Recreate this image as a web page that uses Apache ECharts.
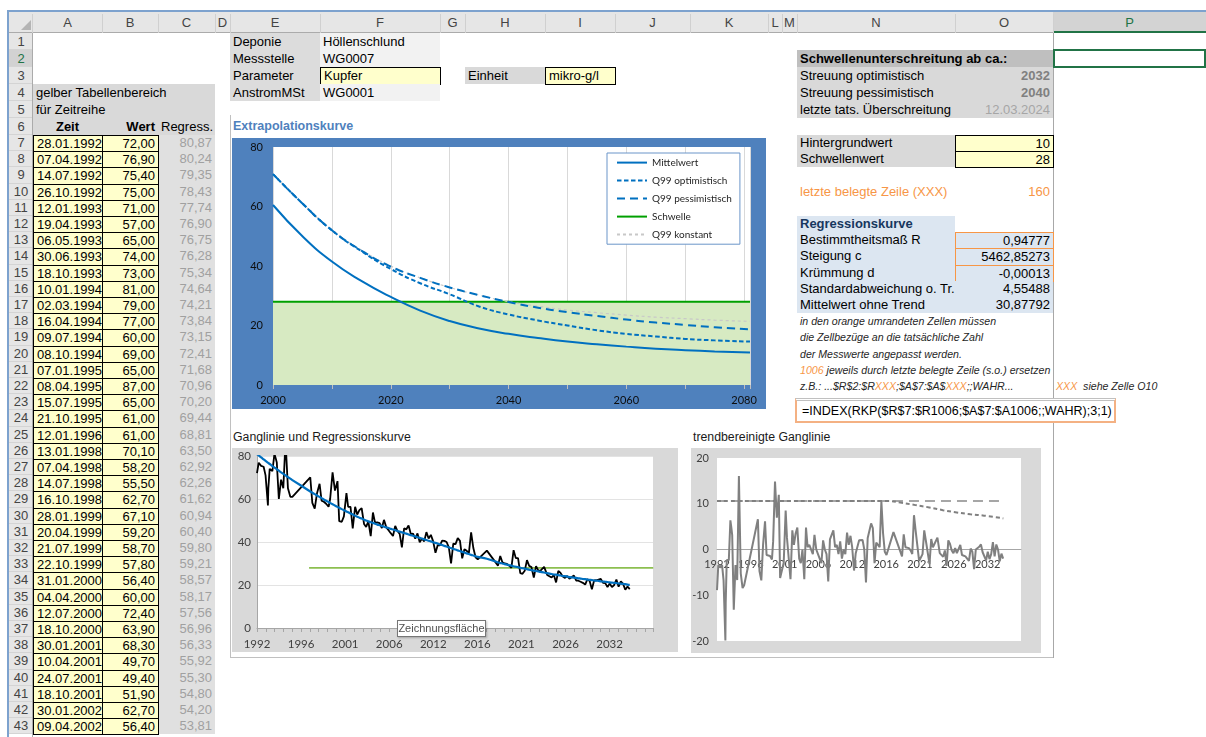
<!DOCTYPE html>
<html lang="de"><head><meta charset="utf-8"><title>Extrapolationskurve</title>
<script src="https://cdn.jsdelivr.net/npm/echarts@6/dist/echarts.min.js"></script>
<style>
html,body{margin:0;padding:0;background:#fff;}
body{width:1206px;height:737px;overflow:hidden;position:relative;font-family:Arial,"Liberation Sans",sans-serif;font-size:13px;color:#000;}
.c{position:absolute;white-space:nowrap;box-sizing:border-box;overflow:visible;padding:0 3px;}
.chart{position:absolute;}
.o{color:#F79646;}
</style></head><body>
<div id="sheet"></div>
<div id="ext" class="chart" style="left:232px;top:138px;width:534px;height:271px"></div>
<div id="gang" class="chart" style="left:232px;top:448px;width:446px;height:204px"></div>
<div id="trend" class="chart" style="left:691px;top:448px;width:350px;height:205px"></div>
<div id="tip" style="position:absolute;left:397px;top:620px;width:89px;height:17px;line-height:15px;box-sizing:border-box;background:#fff;border:1px solid #767676;font-size:11px;color:#505050;text-align:center;z-index:5;box-shadow:1px 1px 2px rgba(0,0,0,0.25)">Zeichnungsfläche</div>
<script>
// ---------------- Daten ----------------
const zeit = ['28.01.1992','07.04.1992','14.07.1992','26.10.1992','12.01.1993','19.04.1993','06.05.1993','30.06.1993','18.10.1993','10.01.1994','02.03.1994','16.04.1994','09.07.1994','08.10.1994','07.01.1995','08.04.1995','15.07.1995','21.10.1995','12.01.1996','13.01.1998','07.04.1998','14.07.1998','16.10.1998','28.01.1999','20.04.1999','21.07.1999','22.10.1999','31.01.2000','04.04.2000','12.07.2000','18.10.2000','30.01.2001','10.04.2001','24.07.2001','18.10.2001','30.01.2002','09.04.2002',
'15.07.2002','14.10.2002','20.01.2003','15.04.2003','14.07.2003','13.10.2003','19.01.2004','14.04.2004','12.07.2004','18.10.2004','17.01.2005','13.04.2005','11.07.2005','17.10.2005','16.01.2006','12.04.2006','17.07.2006','16.10.2006','15.01.2007','16.04.2007','16.07.2007','15.10.2007','14.01.2008','14.04.2008','14.07.2008','13.10.2008','12.01.2009','14.04.2009','13.07.2009','12.10.2009','11.01.2010','12.04.2010','12.07.2010','11.10.2010','10.01.2011','11.04.2011','11.07.2011','10.10.2011','16.01.2012','16.04.2012','16.07.2012','15.10.2012','14.01.2013','15.04.2013','15.07.2013','14.10.2013','13.01.2014','14.04.2014','14.07.2014','13.10.2014','12.01.2015','13.04.2015','13.07.2015','12.10.2015','11.01.2016','11.04.2016',
'11.07.2016','10.10.2016','16.10.2017',
'14.01.2019','15.04.2019','15.07.2019','14.10.2019','13.01.2020','14.04.2020','13.07.2020','12.10.2020','11.01.2021','12.04.2021','12.07.2021','11.10.2021','10.01.2022','11.04.2022','11.07.2022','10.10.2022','16.01.2023','17.04.2023','17.07.2023','16.10.2023','12.03.2024','15.07.2024','14.10.2024','13.01.2025','14.04.2025','14.07.2025','13.10.2025','12.01.2026','13.04.2026','13.07.2026','12.10.2026','11.01.2027','12.07.2027','11.10.2027','10.01.2028','10.04.2028','10.07.2028','16.10.2028','15.01.2029','16.04.2029','16.07.2029','15.10.2029','14.01.2030','15.04.2030','15.07.2030','14.10.2030','13.01.2031','14.04.2031','14.07.2031','13.10.2031','12.01.2032','12.04.2032','12.07.2032','11.10.2032','10.01.2033','11.04.2033','11.07.2033','10.10.2033'];
const wert = [72.00,76.90,75.40,75.00,71.00,57.00,65.00,74.00,73.00,81.00,79.00,77.00,60.00,69.00,65.00,87.00,65.00,61.00,61.00,70.10,58.20,55.50,62.70,67.10,59.20,58.70,57.80,56.40,60.00,72.40,63.90,68.30,49.70,49.40,51.90,62.70,56.40,
56.3,46.3,56.4,52.8,54.8,55.7,48.4,47.0,49.6,42.7,53.7,49.0,49.1,48.8,46.5,50.3,46.8,45.5,44.1,42.8,47.5,45.1,43.8,37.5,46.4,45.9,47.7,43.7,43.9,41.6,44.0,39.9,41.6,40.3,44.6,41.6,43.3,40.4,35.0,38.5,38.4,40.6,40.5,40.0,37.5,30.0,39.3,39.0,41.8,40.5,32.4,36.6,35.9,34.9,44.5,37.2,
32.9,31.9,36.0,
29.0,33.5,30.5,30.0,29.8,29.0,28.0,36.2,32.5,32.5,25.5,25.2,26.6,31.6,28.9,28.4,23.5,28.8,26.8,26.7,28.4,24.7,24.1,23.5,24.7,21.2,26.6,25.6,24.0,23.3,24.2,22.9,24.4,22.1,22.0,21.5,21.0,20.2,22.7,21.9,18.0,22.1,22.2,22.5,22.8,21.0,20.9,19.0,20.7,19.0,20.0,22.5,19.2,21.7,20.5,17.8,19.3,18.1];
const regress = [80.87,80.24,79.35,78.43,77.74,76.90,76.75,76.28,75.34,74.64,74.21,73.84,73.15,72.41,71.68,70.96,70.20,69.44,68.81,63.50,62.92,62.26,61.62,60.94,60.40,59.80,59.21,58.57,58.17,57.56,56.96,56.33,55.92,55.30,54.80,54.20,53.81,
53.3,52.8,52.2,51.8,51.3,50.9,50.4,50.0,49.6,49.2,48.9,48.5,48.1,47.8,47.5,47.1,46.8,46.5,46.1,45.8,45.5,45.1,44.8,44.5,44.2,43.9,43.5,43.2,42.9,42.6,42.2,41.9,41.6,41.3,40.9,40.6,40.3,39.9,39.6,39.3,38.9,38.6,38.2,37.9,37.5,37.2,36.8,36.5,36.1,35.8,35.4,35.1,34.7,34.4,34.0,33.7,
33.4,33.1,32.2,
30.5,30.2,30.0,29.7,29.5,29.2,29.0,28.7,28.5,28.3,28.0,27.8,27.6,27.4,27.1,26.9,26.7,26.5,26.3,26.1,25.8,25.5,25.3,25.1,24.9,24.8,24.6,24.4,24.2,24.1,23.9,23.7,23.4,23.3,23.1,23.0,22.8,22.7,22.5,22.4,22.3,22.1,22.0,21.9,21.7,21.6,21.5,21.4,21.2,21.1,21.0,20.9,20.7,20.6,20.5,20.4,20.2,20.1];
const trendbereinigt = [-8.87,-3.34,-3.95,-3.43,-6.74,-19.90,-11.75,-2.28,-2.34,6.36,4.79,3.16,-13.15,-3.41,-6.68,16.04,-5.20,-8.44,-7.81,6.60,-4.72,-6.76,1.08,6.16,-1.20,-1.10,-1.41,-2.17,1.83,14.84,6.94,11.97,-6.22,-5.90,-2.90,8.50,2.59,
3.0,-6.5,4.2,1.0,3.5,4.8,-2.0,-3.0,0.0,-6.5,4.8,0.5,1.0,1.0,-1.0,3.2,0.0,-1.0,-2.0,-3.0,2.0,0.0,-1.0,-7.0,2.2,2.0,4.2,0.5,1.0,-1.0,1.8,-2.0,0.0,-1.0,3.7,1.0,3.0,0.5,-4.6,-0.8,-0.5,2.0,2.3,2.1,0.0,-7.2,2.5,2.5,5.7,4.7,-3.0,1.5,1.2,0.5,10.5,3.5,
-0.5,-1.2,3.8,
-1.5,3.3,0.5,0.3,0.3,-0.2,-1.0,7.5,4.0,4.2,-2.5,-2.6,-1.0,4.2,1.8,1.5,-3.2,2.3,0.5,0.6,2.6,-0.8,-1.2,-1.6,-0.2,-3.6,2.0,1.2,-0.2,-0.8,0.3,-0.8,1.0,-1.2,-1.1,-1.5,-1.8,-2.5,0.2,-0.5,-4.3,0.0,0.2,0.6,1.1,-0.6,-0.6,-2.4,-0.5,-2.1,-1.0,1.6,-1.5,1.1,0.0,-2.6,-0.9,-2.0];

// Extrapolationskurve
const extraJahre       = [2000,2005,2010,2015,2020,2025,2030,2035,2040,2045,2050,2055,2060,2065,2070,2075,2081];
const mittelwert       = [60.5,50.0,41.5,35.0,29.6,25.0,21.5,19.0,17.2,15.8,14.6,13.7,12.9,12.2,11.7,11.3,10.9];
const q99Optimistisch  = [70.9,61.0,52.0,45.0,39.0,34.2,30.5,26.4,23.7,21.7,20.0,18.4,17.2,16.3,15.5,15.0,14.6];
const q99Pessimistisch = [70.9,61.0,52.0,45.2,39.8,36.0,32.8,30.2,27.9,26.0,24.5,23.2,22.0,21.0,20.2,19.4,18.7];
const schwelleExtra    = [28,28,28,28,28,28,28,28,28,28,28,28,28,28,28,28,28];
const q99Konstant      = [71.0,61.0,52.2,45.4,40.0,36.0,32.8,30.2,28.0,26.5,25.2,24.3,23.5,22.8,22.3,21.8,21.4];

// Ganglinie: Schwelle
const schwelleGangJahre = [1997.9, 2036.4];
const schwelleGangWerte = [28, 28];
// trendbereinigte Ganglinie: Q99-Linien
const q99KonstJahre = [1992.07, 2033.8];
const q99KonstWerte = [10.6, 10.6];
const q99TrendJahre = [1992.07, 2017.0, 2019.0, 2021.0, 2023.0, 2025.0, 2027.0, 2029.0, 2031.0, 2033.8];
const q99TrendWerte = [10.6, 10.6, 10.2, 9.7, 9.2, 8.6, 8.1, 7.7, 7.4, 6.8];
// Achsbeschriftungen (Zeitachse)
const achsBeschriftung = ['1992','1996','2001','2006','2012','2016','2021','2026','2032'];
const achsSchritt = 4.93;   // Jahre je Beschriftung
const achsLaenge = 44.3;    // Jahre auf der Achse

// Tabelle rechts
const kennwertNamen = ['Bestimmtheitsmaß R','Steigung c','Krümmung d','Standardabweichung o. Tr.','Mittelwert ohne Trend'];
const kennwerte = ['0,94777','5462,85273','-0,00013','4,55488','30,87792'];
const unterschreitungJahre = ['2032','2040'];
const letzteUeberschreitung = '12.03.2024';
const hintergrundwert = '10', schwellenwert = '28', letzteZeile = '160';
const spalten = ['A','B','C','D','E','F','G','H','I','J','K','L','M','N','O','P'];

// ---------------- Tabelle ----------------
const colX={A:[33,102],B:[102,158],C:[158,215],D:[215,230],E:[230,320],F:[320,440],G:[440,465],H:[465,545],I:[545,615],J:[615,690],K:[690,768],L:[768,782],M:[782,797],N:[797,955],O:[955,1053],P:[1053,1206]};
function rowTop(r){return r<=7?33+(r-1)*17:135+(r-7)*16.2;}
function rowH(r){return r<7?17:16.2;}
const sheet=document.getElementById('sheet');
function box(x,y,w,h,css,html,lh){const d=document.createElement('div');d.className='c';d.style.cssText=`left:${x}px;top:${y}px;width:${w}px;height:${h}px;line-height:${lh||h}px;`+(css||'');if(html!==undefined)d.innerHTML=html;sheet.appendChild(d);return d;}
function cell(c1,c2,r,html,css){const x1=colX[c1][0],x2=colX[c2][1];return box(x1,rowTop(r),x2-x1,rowH(r),css,html);}
function rahmen(c,r,html,css){const x1=colX[c][0],x2=colX[c][1];return box(x1,rowTop(r),x2-x1+1,rowH(r)+1,css,html,rowH(r)-1);}
const fmt=v=>v.toFixed(2).replace('.',',');

// Fensterrahmen
box(0,0,1206,11,'background:#fff;padding:0');
box(7,10,1199,2,'background:#7DA2CE;padding:0');
box(7,10,2,727,'background:#7DA2CE;padding:0');
// Spaltenköpfe
box(9,12,1197,21,'background:#E6E6E6;border-bottom:1px solid #ABABAB;padding:0');
box(1053,12,153,21,'background:#D3D3D3;border-bottom:2px solid #217346;padding:0');
box(21,20,0,0,'padding:0;border-left:10px solid transparent;border-bottom:10px solid #B4B4B4;width:0;height:0;line-height:0');
spalten.forEach(s=>{const [a,b]=colX[s];box(a,12,b-a,21,'text-align:center;padding:0;color:'+(s==='P'?'#217346':'#444')+';',s,21);box(b,14,1,19,'background:#D0D0D0;padding:0');});
box(32,14,1,19,'background:#D0D0D0;padding:0');
// Zeilenköpfe
for(let r=1;r<=43;r++){const sel=r===2;box(9,rowTop(r),24,rowH(r),'text-align:center;padding:0;border-bottom:1px solid #D4D4D4;background:'+(sel?'#D2D2D2':'#E6E6E6')+';color:'+(sel?'#217346':'#444')+';',String(r),rowH(r));}
box(32,33,1,704,'background:#ABABAB;padding:0');

// Kopfbereich E/F
const kopf=[['Deponie','Höllenschlund'],['Messstelle','WG0007'],['Parameter','Kupfer'],['AnstromMSt','WG0001']];
kopf.forEach((k,i)=>{const r=i+1;cell('E','E',r,k[0],'background:#DCDCDC;');if(r===3)rahmen('F',r,k[1],'background:#FFFFCC;border:1px solid #000;');else cell('F','F',r,k[1],'background:#F2F2F2;');});
cell('H','H',3,'Einheit','background:#D9D9D9;');
rahmen('I',3,'mikro-g/l','background:#FFFFCC;border:1px solid #000;');
// linke Tabelle
cell('A','C',4,'gelber Tabellenbereich','background:#D9D9D9;');
cell('A','C',5,'für Zeitreihe','background:#D9D9D9;');
cell('A','C',6,'','background:#D9D9D9;');
cell('A','A',6,'Zeit','text-align:center;font-weight:bold;');
cell('B','B',6,'Wert','text-align:right;font-weight:bold;');
cell('C','C',6,'Regress.','text-align:right;');
for(let i=0;i<37;i++){const r=7+i;
  cell('C','C',r,fmt(regress[i]),'background:#E0E0E0;text-align:right;color:#A0A0A0;');
  rahmen('A',r,zeit[i],'background:#FFFFCC;border:1px solid #000;text-align:right;');
  rahmen('B',r,fmt(wert[i]),'background:#FFFFCC;border:1px solid #000;text-align:right;');
}
// Titel
box(231,rowTop(6),220,17,'font-weight:bold;color:#4F81BD;font-size:12.5px;padding:0 2px;','Extrapolationskurve');
box(231,429,260,16,'font-size:12.3px;color:#1a1a1a;padding:0 2px;','Ganglinie und Regressionskurve');
box(691,429,260,16,'font-size:12.3px;color:#1a1a1a;padding:0 2px;','trendbereinigte Ganglinie');
// Rahmen Diagrammbereich
box(230,115,1,542,'background:#C0C0C0;padding:0');
box(230,657,824,1,'background:#C0C0C0;padding:0');
box(1053,33,1,625,'background:#A8A8A8;padding:0');

// rechte Tabelle
cell('N','O',2,'Schwellenunterschreitung ab ca.:','background:#BFBFBF;font-weight:bold;');
cell('N','N',3,'Streuung optimistisch','background:#D9D9D9;');
cell('N','N',4,'Streuung pessimistisch','background:#D9D9D9;');
cell('N','N',5,'letzte tats. Überschreitung','background:#D9D9D9;');
cell('O','O',3,unterschreitungJahre[0],'background:#D9D9D9;text-align:right;font-weight:bold;color:#808080;');
cell('O','O',4,unterschreitungJahre[1],'background:#D9D9D9;text-align:right;font-weight:bold;color:#808080;');
cell('O','O',5,letzteUeberschreitung,'background:#D9D9D9;text-align:right;color:#A6A6A6;');
cell('N','N',7,'Hintergrundwert','background:#D9D9D9;');
cell('N','N',8,'Schwellenwert','background:#D9D9D9;');
rahmen('O',7,hintergrundwert,'background:#FFFFCC;border:1px solid #000;text-align:right;');
rahmen('O',8,schwellenwert,'background:#FFFFCC;border:1px solid #000;text-align:right;');
cell('N','N',10,'letzte belegte Zeile (XXX)','color:#F79646;');
cell('O','O',10,letzteZeile,'color:#F79646;text-align:right;');
cell('N','N',12,'Regressionskurve','background:#DCE6F1;font-weight:bold;color:#17375E;');
kennwertNamen.forEach((n,i)=>{const r=13+i;cell('N','N',r,n,'background:#DCE6F1;');
  if(i<3) rahmen('O',r,kennwerte[i],'background:#DCE6F1;border:1px solid #F79646;text-align:right;');
  else cell('O','O',r,kennwerte[i],'background:#DCE6F1;text-align:right;');});
const notiz='font-style:italic;font-size:10.6px;color:#262626;';
cell('N','N',18,'in den orange umrandeten Zellen müssen',notiz);
cell('N','N',19,'die Zellbezüge an die tatsächliche Zahl',notiz);
cell('N','N',20,'der Messwerte angepasst werden.',notiz);
cell('N','N',21,'<span class="o">1006</span> jeweils durch letzte belegte Zeile (s.o.) ersetzen',notiz);
cell('N','N',22,'z.B.: ...$R$2:$R<span class="o">XXX</span>;$A$7:$A$<span class="o">XXX</span>;;WAHR...',notiz);
cell('P','P',22,'<span class="o">XXX</span>&nbsp; siehe Zelle O10',notiz);
box(795,398,321,25,'background:#fff;border:2px solid #F4B183;border-top:3px double #C0C0C0;font-size:12.5px;padding:0 0 0 5px;','=INDEX(RKP($R$7:$R1006;$A$7:$A1006;;WAHR);3;1)',20);
// Auswahl P2
box(1053,49,153,19,'border:2px solid #217346;padding:0');

// ---------------- Diagramme ----------------
function dezJahr(s){const [d,m,y]=s.split('.').map(Number);const t=Date.UTC(y,m-1,d),a=Date.UTC(y,0,1),b=Date.UTC(y+1,0,1);return y+(t-a)/(b-a);}
const x0=dezJahr(zeit[0]);
const xs=zeit.map(s=>dezJahr(s)-x0);
const pair=(a,b)=>a.map((v,i)=>[v,b[i]]);
const rel=a=>a.map(v=>v-x0);
const zeitLabel=v=>{const k=Math.round(v/achsSchritt);return (Math.abs(v-k*achsSchritt)<0.01&&achsBeschriftung[k])?achsBeschriftung[k]:'';};
const FONT='Lato, "Liberation Sans", Arial, sans-serif';

const ext=echarts.init(document.getElementById('ext'));
ext.setOption({
  animation:false,
  backgroundColor:'#4F81BD',
  textStyle:{fontFamily:FONT},
  grid:{left:41,right:16,top:9,bottom:24,show:true,backgroundColor:'#ffffff',borderWidth:0,containLabel:false,outerBoundsMode:'none'},
  legend:{orient:'vertical',left:375,top:15,padding:[4,8,4,9],backgroundColor:'#ffffff',borderColor:'#6B95C9',borderWidth:1,
    itemWidth:30,itemHeight:14,itemGap:6.8,itemStyle:{opacity:0},textStyle:{fontSize:10,color:'#262626',fontFamily:FONT},
    data:['Mittelwert','Q99 optimistisch','Q99 pessimistisch','Schwelle','Q99 konstant']},
  xAxis:{type:'value',min:2000,max:2081,interval:10,
    axisLine:{show:false},axisTick:{show:true,length:4,lineStyle:{color:'#BFBFBF'}},
    splitLine:{show:true,lineStyle:{color:'#D9D9D9',width:1}},
    axisLabel:{color:'#0d0d0d',fontSize:11,margin:10,formatter:v=>(v%20===0?String(v):'')}},
  yAxis:{type:'value',min:0,max:80,interval:20,axisLine:{show:false},axisTick:{show:false},splitLine:{show:false},
    axisLabel:{color:'#0d0d0d',fontSize:11,margin:10}},
  series:[
    {name:'Schwelle',type:'line',data:pair(extraJahre,schwelleExtra),symbol:'none',z:1,
      lineStyle:{color:'#00A000',width:2},itemStyle:{color:'#00A000'},areaStyle:{color:'#D7EAC2',opacity:1}},
    {name:'Q99 konstant',type:'line',data:pair(extraJahre,q99Konstant),symbol:'none',smooth:true,
      lineStyle:{color:'#C8C8C8',width:1.2,type:[3,3]},itemStyle:{color:'#C8C8C8'}},
    {name:'Q99 pessimistisch',type:'line',data:pair(extraJahre,q99Pessimistisch),symbol:'none',smooth:true,
      lineStyle:{color:'#0070C0',width:2,type:[8,5]},itemStyle:{color:'#0070C0'}},
    {name:'Q99 optimistisch',type:'line',data:pair(extraJahre,q99Optimistisch),symbol:'none',smooth:true,
      lineStyle:{color:'#0070C0',width:2,type:[4.5,2.5]},itemStyle:{color:'#0070C0'}},
    {name:'Mittelwert',type:'line',data:pair(extraJahre,mittelwert),symbol:'none',smooth:true,
      lineStyle:{color:'#0070C0',width:2},itemStyle:{color:'#0070C0'}}
  ]
});

const gang=echarts.init(document.getElementById('gang'));
gang.setOption({
  animation:false,
  backgroundColor:'#D9D9D9',
  textStyle:{fontFamily:FONT},
  grid:{left:25,right:25,top:8,bottom:24,show:true,backgroundColor:'#ffffff',borderWidth:0,containLabel:false,outerBoundsMode:'none'},
  xAxis:{type:'value',min:0,max:achsLaenge,interval:achsSchritt,
    axisLine:{show:true,lineStyle:{color:'#A6A6A6'}},
    axisTick:{show:true,length:4,lineStyle:{color:'#A6A6A6'}},
    minorTick:{show:true,splitNumber:5,length:4,lineStyle:{color:'#A6A6A6'}},
    splitLine:{show:false},
    axisLabel:{formatter:zeitLabel,fontSize:11.5,color:'#404040',margin:10}},
  yAxis:{type:'value',min:0,max:80,interval:20,
    axisLine:{show:true,lineStyle:{color:'#A6A6A6'}},axisTick:{show:false},
    splitLine:{show:true,lineStyle:{color:'#E3E3E3'}},
    axisLabel:{fontSize:11.5,color:'#404040',margin:6}},
  series:[
    {name:'Schwelle',type:'line',data:pair(rel(schwelleGangJahre),schwelleGangWerte),symbol:'none',lineStyle:{color:'#8CBF50',width:1.8}},
    {name:'Wert',type:'line',data:pair(xs,wert),symbol:'none',lineStyle:{color:'#000000',width:1.8}},
    {name:'Regression',type:'line',data:pair(xs,regress),symbol:'none',smooth:true,lineStyle:{color:'#0070C0',width:2.2}}
  ]
});

const trendGridH = 205-10-12;
const trend=echarts.init(document.getElementById('trend'));
trend.setOption({
  animation:false,
  backgroundColor:'#D9D9D9',
  textStyle:{fontFamily:FONT},
  grid:{left:26,right:20,top:10,bottom:12,show:true,backgroundColor:'#ffffff',borderWidth:0,containLabel:false,outerBoundsMode:'none'},
  xAxis:{type:'value',min:0,max:achsLaenge,interval:achsSchritt,position:'bottom',offset:-trendGridH/2,
    axisLine:{show:true,onZero:false,lineStyle:{color:'#A6A6A6'}},axisTick:{show:false},splitLine:{show:false},
    axisLabel:{formatter:zeitLabel,fontSize:11,color:'#404040',margin:9}},
  yAxis:{type:'value',min:-20,max:20,interval:10,axisLine:{show:false},axisTick:{show:false},splitLine:{show:false},
    axisLabel:{fontSize:11,color:'#404040',margin:8}},
  series:[
    {name:'Q99 konstant',type:'line',data:pair(rel(q99KonstJahre),q99KonstWerte),symbol:'none',lineStyle:{color:'#A6A6A6',width:2,type:[10,6]}},
    {name:'Q99',type:'line',data:pair(rel(q99TrendJahre),q99TrendWerte),symbol:'none',smooth:true,lineStyle:{color:'#808080',width:2,type:[4,3]}},
    {name:'trendbereinigt',type:'line',data:pair(xs,trendbereinigt),symbol:'none',lineStyle:{color:'#808080',width:2}}
  ]
});
</script>
</body></html>
